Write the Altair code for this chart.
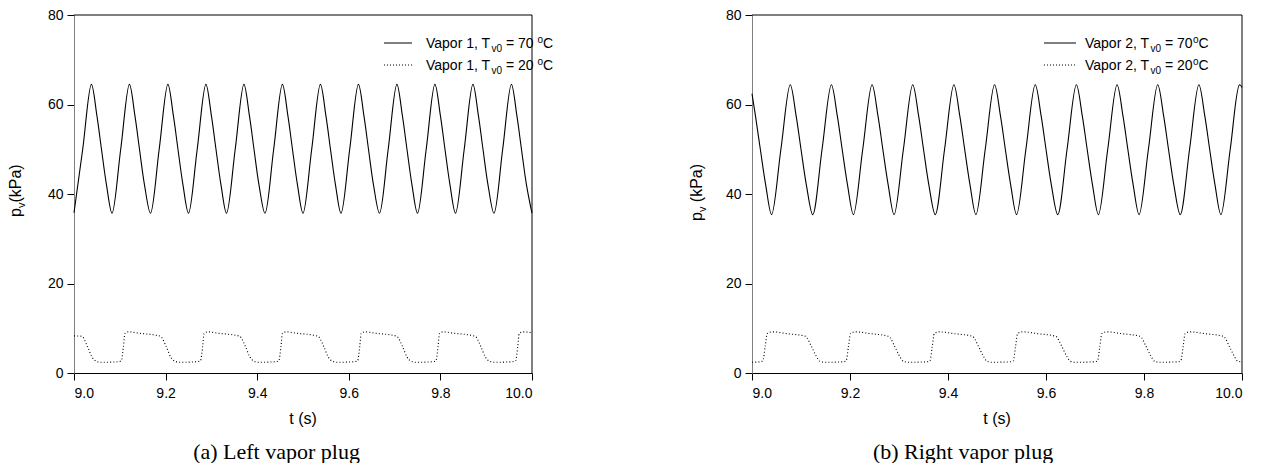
import altair as alt
import pandas as pd

# ---------------- data ----------------
# (a) Left vapor plug, Vapor 1, T_v0 = 70 C  (solid)
L70_T = [9.000, 9.019, 9.038, 9.050, 9.060, 9.071,
         9.083, 9.102, 9.121, 9.133, 9.143, 9.154,
         9.167, 9.186, 9.205, 9.217, 9.227, 9.238,
         9.250, 9.269, 9.288, 9.300, 9.310, 9.321,
         9.333, 9.352, 9.371, 9.383, 9.393, 9.404,
         9.417, 9.436, 9.455, 9.467, 9.477, 9.488,
         9.500, 9.519, 9.538, 9.550, 9.560, 9.571,
         9.583, 9.602, 9.621, 9.633, 9.643, 9.654,
         9.667, 9.686, 9.705, 9.717, 9.727, 9.738,
         9.750, 9.769, 9.788, 9.800, 9.810, 9.821,
         9.833, 9.852, 9.871, 9.883, 9.893, 9.904,
         9.917, 9.936, 9.955, 9.967, 9.977, 9.988,
         10.000]
L70_P = [35.8, 50, 64.5, 57.5, 50, 42,
         35.7, 50, 64.5, 57.5, 50, 42,
         35.7, 50, 64.5, 57.5, 50, 42,
         35.7, 50, 64.5, 57.5, 50, 42,
         35.7, 50, 64.5, 57.5, 50, 42,
         35.7, 50, 64.5, 57.5, 50, 42,
         35.7, 50, 64.5, 57.5, 50, 42,
         35.7, 50, 64.5, 57.5, 50, 42,
         35.7, 50, 64.5, 57.5, 50, 42,
         35.7, 50, 64.5, 57.5, 50, 42,
         35.7, 50, 64.5, 57.5, 50, 42,
         35.7, 50, 64.5, 57.5, 50, 42,
         35.7]

# (a) Vapor 1, T_v0 = 20 C  (dotted)
L20_T = [9.000, 9.017, 9.029, 9.039, 9.049, 9.059, 9.094, 9.103, 9.108, 9.111, 9.119, 9.141,
         9.181, 9.189, 9.201, 9.211, 9.221, 9.231, 9.267, 9.276, 9.281, 9.284, 9.292, 9.314,
         9.354, 9.362, 9.374, 9.384, 9.394, 9.404, 9.438, 9.447, 9.452, 9.455, 9.463, 9.485,
         9.525, 9.533, 9.545, 9.555, 9.565, 9.575, 9.610, 9.619, 9.624, 9.627, 9.635, 9.657,
         9.697, 9.705, 9.717, 9.727, 9.737, 9.747, 9.781, 9.790, 9.795, 9.798, 9.806, 9.828,
         9.868, 9.876, 9.888, 9.898, 9.908, 9.918, 9.955, 9.964, 9.969, 9.972, 9.980, 10.000]
L20_P = [8.3, 8.2, 6.0, 3.6, 2.6, 2.4, 2.5, 2.7, 6.0, 8.8, 9.2, 8.9,
         8.4, 8.2, 6.0, 3.6, 2.6, 2.4, 2.5, 2.7, 6.0, 8.8, 9.2, 8.9,
         8.4, 8.2, 6.0, 3.6, 2.6, 2.4, 2.5, 2.7, 6.0, 8.8, 9.2, 8.9,
         8.4, 8.2, 6.0, 3.6, 2.6, 2.4, 2.5, 2.7, 6.0, 8.8, 9.2, 8.9,
         8.4, 8.2, 6.0, 3.6, 2.6, 2.4, 2.5, 2.7, 6.0, 8.8, 9.2, 8.9,
         8.4, 8.2, 6.0, 3.6, 2.6, 2.4, 2.5, 2.7, 6.0, 8.8, 9.2, 9.0]

# (b) Right vapor plug, Vapor 2, T_v0 = 70 C (solid)
R70_T = [9.000, 9.007, 9.017, 9.028,
         9.040, 9.059, 9.078, 9.090, 9.100, 9.111,
         9.124, 9.143, 9.162, 9.174, 9.184, 9.195,
         9.207, 9.226, 9.245, 9.257, 9.267, 9.278,
         9.290, 9.309, 9.328, 9.340, 9.350, 9.361,
         9.374, 9.393, 9.412, 9.424, 9.434, 9.445,
         9.457, 9.476, 9.495, 9.507, 9.517, 9.528,
         9.540, 9.559, 9.578, 9.590, 9.600, 9.611,
         9.624, 9.643, 9.662, 9.674, 9.684, 9.695,
         9.707, 9.726, 9.745, 9.757, 9.767, 9.778,
         9.790, 9.809, 9.828, 9.840, 9.850, 9.861,
         9.874, 9.893, 9.912, 9.924, 9.934, 9.945,
         9.957, 9.976, 9.995, 10.000]
R70_P = [62.4, 57.5, 50, 42,
         35.4, 50, 64.4, 57.5, 50, 42,
         35.4, 50, 64.4, 57.5, 50, 42,
         35.4, 50, 64.4, 57.5, 50, 42,
         35.4, 50, 64.4, 57.5, 50, 42,
         35.4, 50, 64.4, 57.5, 50, 42,
         35.4, 50, 64.4, 57.5, 50, 42,
         35.4, 50, 64.4, 57.5, 50, 42,
         35.4, 50, 64.4, 57.5, 50, 42,
         35.4, 50, 64.4, 57.5, 50, 42,
         35.4, 50, 64.4, 57.5, 50, 42,
         35.4, 50, 64.4, 57.5, 50, 42,
         35.4, 50, 64.4, 63.8]

# (b) Vapor 2, T_v0 = 20 C (dotted)
R20_T = [9.000, 9.016, 9.022, 9.027, 9.031, 9.041, 9.071, 9.109, 9.121, 9.131, 9.139, 9.149,
         9.186, 9.192, 9.197, 9.201, 9.211, 9.241, 9.279, 9.291, 9.301, 9.309, 9.319,
         9.357, 9.363, 9.368, 9.372, 9.382, 9.412, 9.450, 9.462, 9.472, 9.480, 9.490,
         9.527, 9.533, 9.538, 9.542, 9.552, 9.582, 9.620, 9.632, 9.642, 9.650, 9.660,
         9.699, 9.705, 9.710, 9.714, 9.724, 9.754, 9.792, 9.804, 9.814, 9.822, 9.832,
         9.869, 9.875, 9.880, 9.884, 9.894, 9.924, 9.962, 9.974, 9.984, 9.992, 10.000]
R20_P = [2.4, 2.5, 2.7, 6.0, 8.8, 9.2, 8.8, 8.2, 6.0, 3.8, 2.6, 2.4,
         2.5, 2.7, 6.0, 8.8, 9.2, 8.8, 8.2, 6.0, 3.8, 2.6, 2.4,
         2.5, 2.7, 6.0, 8.8, 9.2, 8.8, 8.2, 6.0, 3.8, 2.6, 2.4,
         2.5, 2.7, 6.0, 8.8, 9.2, 8.8, 8.2, 6.0, 3.8, 2.6, 2.4,
         2.5, 2.7, 6.0, 8.8, 9.2, 8.8, 8.2, 6.0, 3.8, 2.6, 2.4,
         2.5, 2.7, 6.0, 8.8, 9.2, 8.8, 8.2, 6.0, 3.8, 2.6, 2.5]

X_TICKS = [9.0, 9.2, 9.4, 9.6, 9.8, 10.0]
Y_TICKS = [0, 20, 40, 60, 80]
CAPTIONS = ["(a) Left vapor plug", "(b) Right vapor plug"]

SANS = "Liberation Sans"
SERIF = "Liberation Serif"
H = 358


def txt(s, x, y, size=14, font=SANS, angle=0, align="left", baseline="alphabetic"):
    return alt.Chart(pd.DataFrame({"s": [s]})).mark_text(
        font=font, fontSize=size, angle=angle, align=align, baseline=baseline, color="black"
    ).encode(text="s:N", x=alt.value(x), y=alt.value(y))


def legend_entry(x_line0, x_line1, x_text, yc, vapor, temp, space_before_deg, dotted):
    layers = []
    mk = dict(color="black", strokeWidth=1)
    if dotted:
        mk["strokeDash"] = [1, 2]
    layers.append(alt.Chart(pd.DataFrame({"s": [0]})).mark_rule(**mk).encode(
        x=alt.value(x_line0), x2=alt.value(x_line1), y=alt.value(yc)))
    b = yc + 5
    layers.append(txt(f"Vapor {vapor}, T", x_text, b))
    layers.append(txt("v0", x_text + 65.4, b + 3.5, size=10))
    layers.append(txt(f"= {temp}", x_text + 79.9, b))
    xo = x_text + 79.9 + 27.6 + (3.9 if space_before_deg else 0.5)
    layers.append(txt("o", xo, b - 5, size=10))
    layers.append(txt("C", xo + 5.6, b))
    return layers


def panel(W, st, sp, dt, dp, vapor, space_deg, leg_line, leg_text, ytitle_x, ytitle_space,
          caption, cap_x):
    xenc = alt.X("t:Q", scale=alt.Scale(domain=[9, 10], nice=False, zero=False),
                 axis=alt.Axis(values=X_TICKS, format=".1f", title=None, tickSize=7,
                               labelPadding=6, grid=False, domainColor="black",
                               tickColor="black"))
    yenc = alt.Y("p:Q", scale=alt.Scale(domain=[0, 80], nice=False),
                 axis=alt.Axis(values=Y_TICKS, title=None, tickSize=7, labelPadding=4,
                               grid=False, domainColor="#808080", tickColor="black"))
    solid = alt.Chart(pd.DataFrame({"t": st, "p": sp})).mark_line(
        interpolate="catmull-rom", color="black", strokeWidth=1.1).encode(x=xenc, y=yenc)
    dotted = alt.Chart(pd.DataFrame({"t": dt, "p": dp})).mark_line(
        interpolate="monotone", color="black", strokeWidth=1.1, strokeDash=[1, 2.2]
    ).encode(x=xenc, y=yenc)
    one = pd.DataFrame({"s": [0]})
    top = alt.Chart(one).mark_rule(color="black", strokeWidth=1).encode(
        x=alt.value(0), x2=alt.value(W), y=alt.value(0))
    right = alt.Chart(one).mark_rule(color="black", strokeWidth=1).encode(
        x=alt.value(W), y=alt.value(0), y2=alt.value(H))
    layers = [solid, dotted, top, right]
    layers += legend_entry(leg_line[0], leg_line[1], leg_text, 28, vapor, 70, space_deg, False)
    layers += legend_entry(leg_line[0], leg_line[1], leg_text, 50, vapor, 20, space_deg, True)
    # y title  p_v(kPa), rotated
    y0 = 202 if not ytitle_space else 206
    layers.append(txt("p", ytitle_x, y0, size=16, angle=270))
    layers.append(txt("v", ytitle_x + 3.5, y0 - 8.9, size=11, angle=270))
    layers.append(txt("(kPa)", ytitle_x, y0 - 8.9 - 5.5 - (4.4 if ytitle_space else 0),
                      size=16, angle=270))
    # x title
    layers.append(txt("t (s)", W / 2, 409, size=16, align="center"))
    # caption
    layers.append(txt(caption, cap_x, 444, size=22, font=SERIF, align="center"))
    return alt.layer(*layers).properties(width=W, height=H)


left = panel(458, L70_T, L70_P, L20_T, L20_P, 1, True, (310, 338), 352, -53, False,
             CAPTIONS[0], 202.5)
right = panel(490, R70_T, R70_P, R20_T, R20_P, 2, False, (292, 324), 333, -50, True,
              CAPTIONS[1], 211)

chart = alt.hconcat(left, right, spacing=135).properties(
    padding={"left": 0, "top": 0, "right": 0, "bottom": 0}
).configure_view(stroke=None).configure_axis(
    labelFont=SANS, labelFontSize=14, labelColor="black"
)

chart.save("out.html", embed_options={"renderer": "svg", "actions": False})
